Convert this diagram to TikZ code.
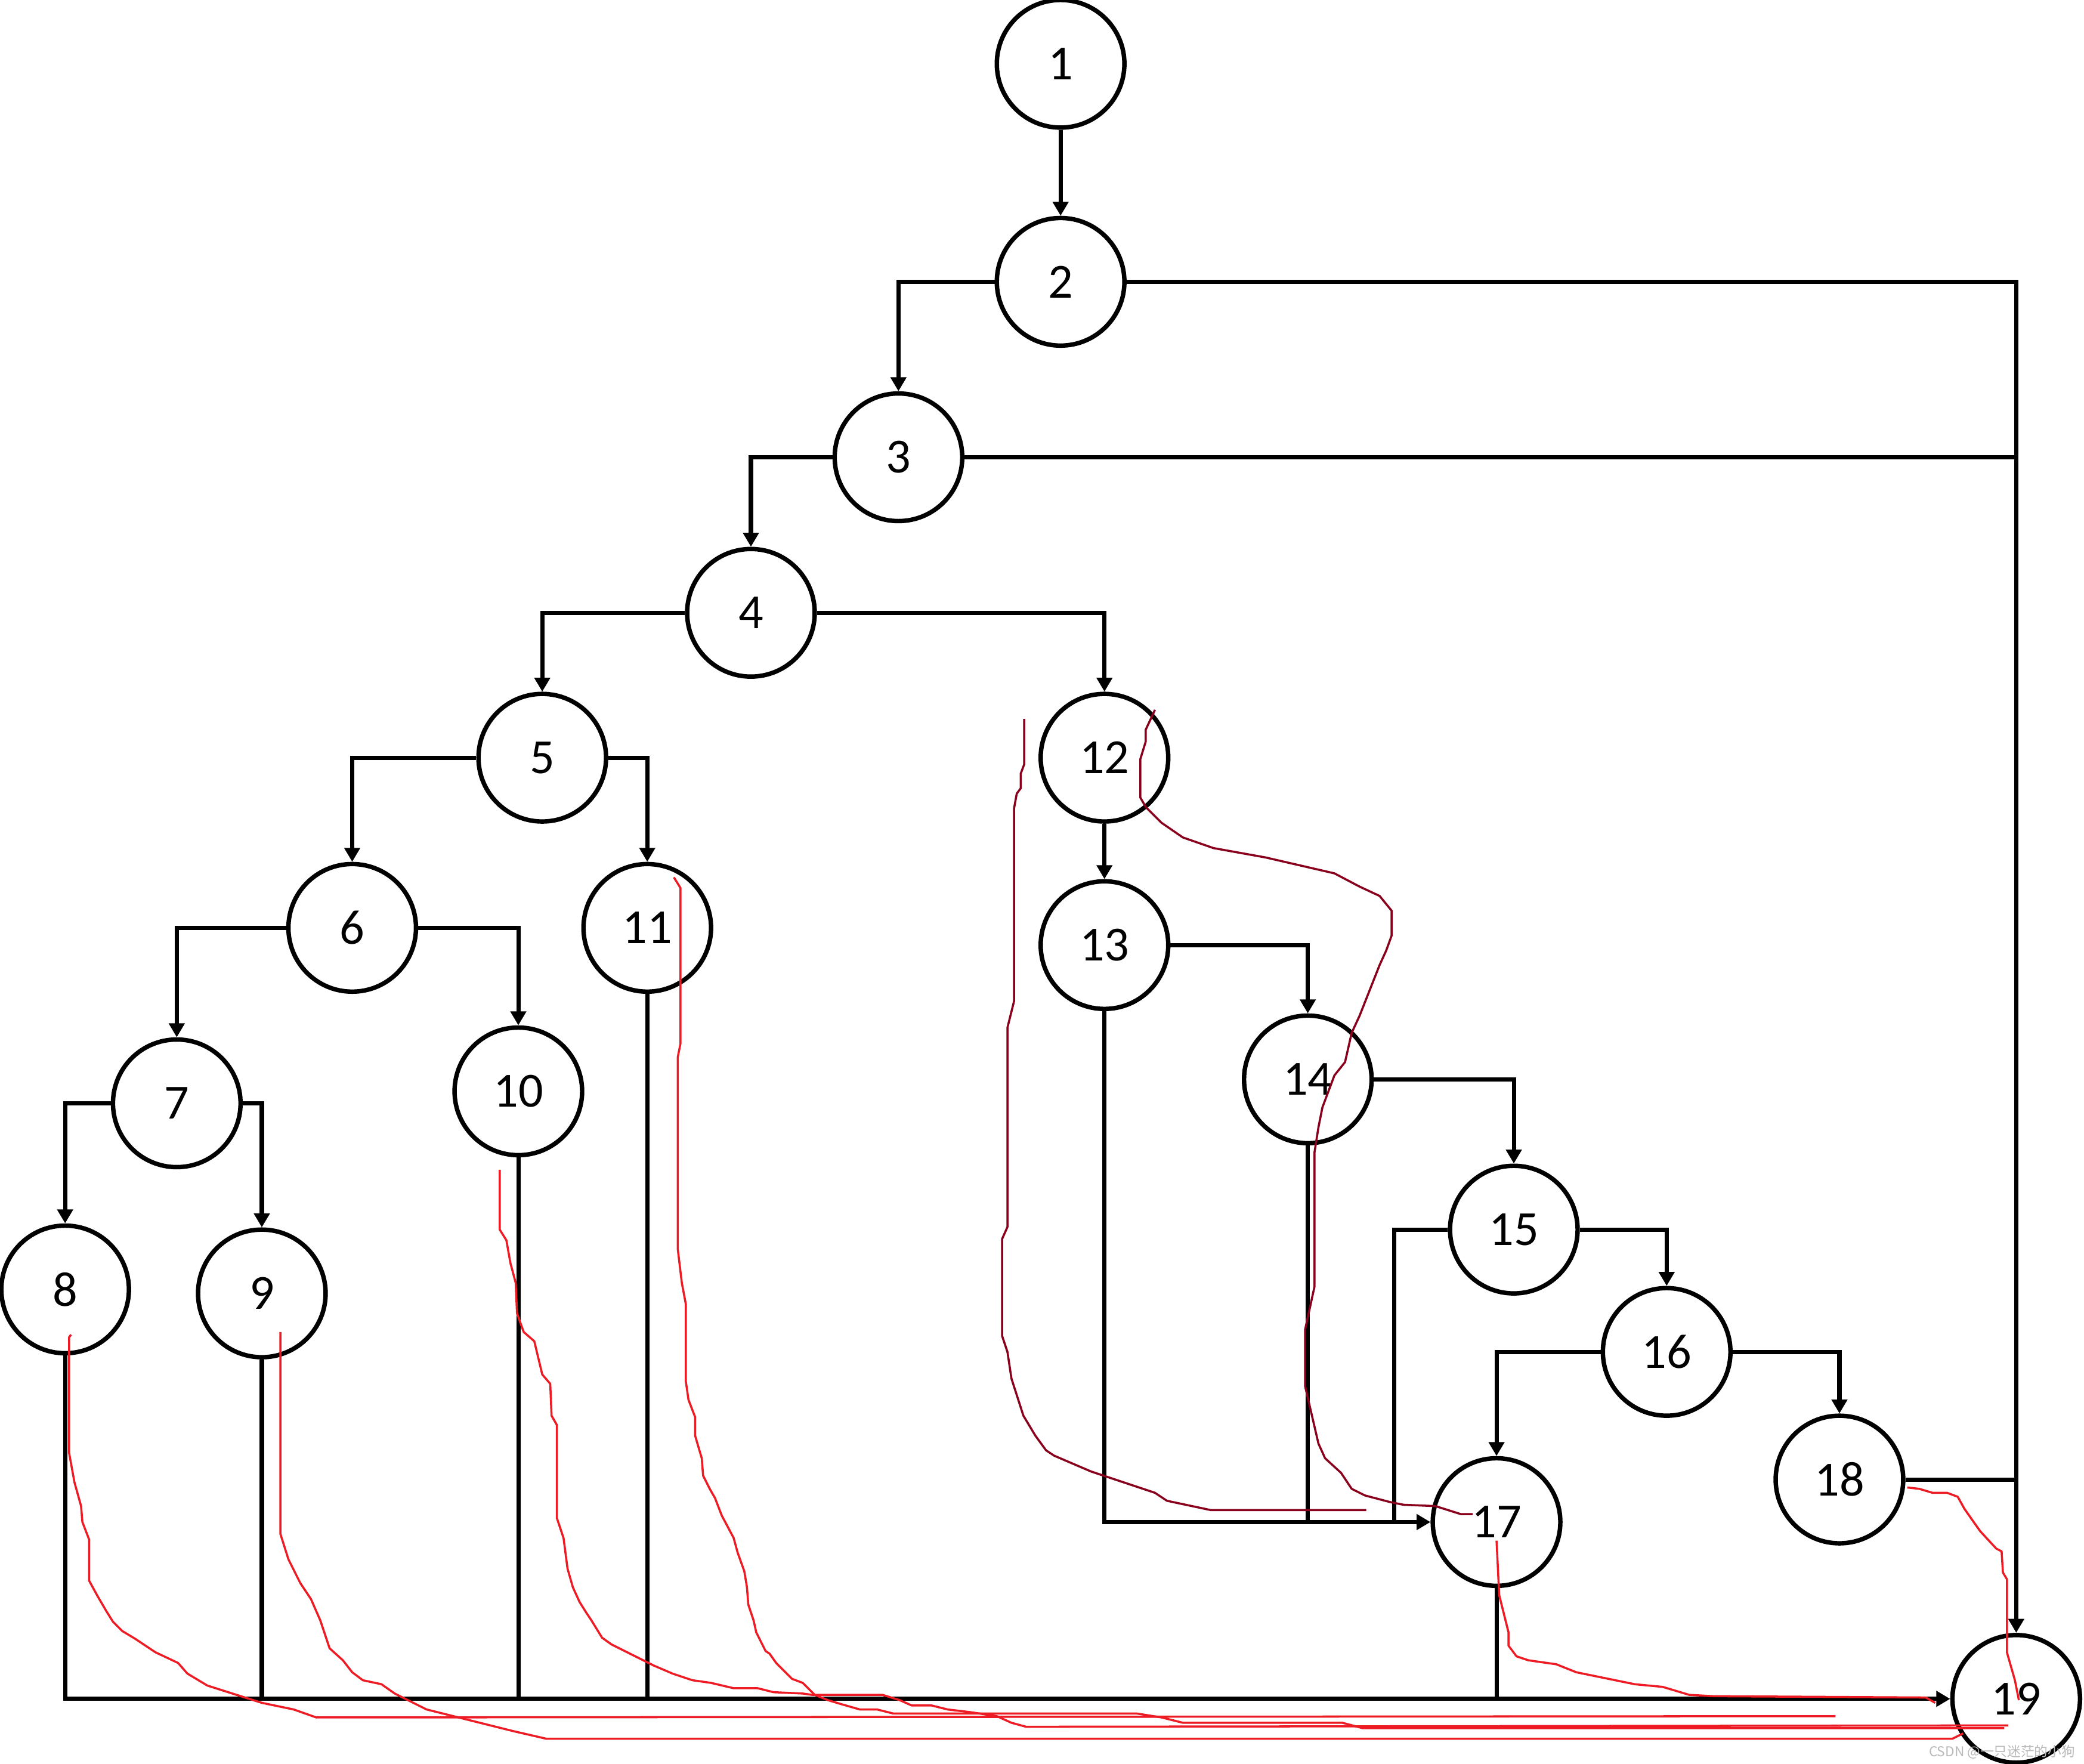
\documentclass[tikz,border=0pt]{standalone}
\usepackage{fontspec}
\setmainfont{Carlito}
\newfontfamily\cjk{Noto Sans CJK SC}
\usetikzlibrary{arrows.meta}
\definecolor{pen}{HTML}{ED1C24}
\definecolor{darkpen}{HTML}{88001B}
\begin{document}
\begin{tikzpicture}[x=0.1mm,y=-0.1mm,
  vertex/.style={circle,draw,line width=0.95pt,minimum size=9.6mm,inner sep=0pt,font=\fontsize{10.5}{12}\selectfont},
  edge/.style={line width=0.9pt},
  arr/.style={edge,-{Triangle[length=1.05mm,width=1.15mm]}},
  redline/.style={pen,line width=0.45pt,line join=round},
  darkline/.style={darkpen,line width=0.45pt,line join=round}]
\useasboundingbox (0,0) rectangle (1568,1327);
\foreach \n/\x/\y in {1/798/48,2/798/212,3/676/344,4/565/461,5/408/570,6/265/698,7/133/830,
  8/49/970,9/197/973,10/390/821,11/487/698,12/831/570,13/831/711,14/984/812,
  15/1139/925,16/1254/1017,17/1126/1145,18/1384/1113,19/1517/1278}
  {\node[vertex] (n\n) at (\x,\y) {\n};}
\coordinate (j15) at (1049,1145);
\draw[arr] (n1) -- (n2);
\draw[arr] (n2) -| (n3);
\draw[arr] (n2) -| (n19);
\draw[edge] (n3) -- (n3 -| n19);
\draw[arr] (n3) -| (n4);
\draw[arr] (n4) -| (n5);
\draw[arr] (n4) -| (n12);
\draw[arr] (n5) -| (n6);
\draw[arr] (n5) -| (n11);
\draw[arr] (n6) -| (n7);
\draw[arr] (n6) -| (n10);
\draw[arr] (n7) -| (n8);
\draw[arr] (n7) -| (n9);
\draw[arr] (n8) |- (n19);
\foreach \n in {9,10,11,17} {\draw[edge] (n\n) -- (n\n |- n19);}
\draw[arr] (n12) -- (n13);
\draw[arr] (n13) -| (n14);
\draw[arr] (n13) |- (n17);
\draw[edge] (n14) -- (n14 |- n17);
\draw[arr] (n14) -| (n15);
\draw[edge] (n15) -| (j15);
\draw[arr] (n15) -| (n16);
\draw[arr] (n16) -| (n17);
\draw[arr] (n16) -| (n18);
\draw[edge] (n18) -- (n18 -| n19);
% hand-drawn paths
\draw[redline] (53.5,1004) -- (52,1006) -- (52,1093) -- (56,1115) -- (61,1133) -- (62,1145) -- (67,1158) -- (67,1189) -- (73,1200) -- (80,1212) -- (85,1220) -- (92,1227) -- (102,1233) -- (117,1243) -- (134,1251) -- (141,1259) -- (156,1268) -- (178,1275) -- (197,1281) -- (221,1286) -- (238,1292) -- (1381,1291);
\draw[redline] (211,1002) -- (211,1154) -- (217,1173) -- (226,1191) -- (234,1203) -- (241,1219) -- (248,1240) -- (258,1249) -- (265,1258) -- (273,1264) -- (287,1267) -- (297,1274) -- (321,1286) -- (341,1291) -- (385,1302) -- (411,1308) -- (1469,1308) -- (1477,1304);
\draw[redline] (376,880) -- (376,925) -- (381,933) -- (384,950) -- (388,965) -- (389,988) -- (394,1002) -- (402,1009) -- (408,1034) -- (414,1041) -- (415,1065) -- (419,1072) -- (419,1142) -- (424,1157) -- (427,1180) -- (431,1194) -- (436,1205) -- (441,1213) -- (445,1219) -- (453,1232) -- (460,1237) -- (482,1248) -- (492,1253) -- (506,1259) -- (521,1264) -- (535,1266) -- (552,1270) -- (570,1270) -- (582,1273) -- (604,1274) -- (611,1275) -- (664,1275) -- (677,1279) -- (686,1283) -- (701,1283) -- (713,1286) -- (730,1288) -- (750,1291) -- (761,1296) -- (772,1299) -- (1511,1298);
\draw[redline] (507,660) -- (512,668) -- (512,785) -- (510,795) -- (510,940) -- (513,965) -- (516,981) -- (516,1039) -- (518,1053) -- (523,1066) -- (523,1080) -- (528,1097) -- (529,1110) -- (534,1120) -- (538,1127) -- (543,1140) -- (552,1157) -- (555,1168) -- (560,1182) -- (562,1194) -- (563,1207) -- (567,1219) -- (569,1228) -- (576,1242) -- (579,1244) -- (584,1251) -- (596,1263) -- (604,1266) -- (613,1275) -- (623,1279) -- (633,1282) -- (647,1286) -- (660,1286) -- (672,1289) -- (855,1289) -- (874,1292) -- (890,1296) -- (1010,1296) -- (1025,1300) -- (1508,1300);
\draw[redline] (1126,1159) -- (1128,1200) -- (1135,1228) -- (1135,1238) -- (1141,1246) -- (1150,1249) -- (1171,1252) -- (1186,1258) -- (1230,1267) -- (1251,1269) -- (1271,1275) -- (1289,1276) -- (1449,1277) -- (1456,1281);
\draw[redline] (1435,1119) -- (1444,1120) -- (1454,1123) -- (1465,1123) -- (1473,1126) -- (1478,1135) -- (1485,1145) -- (1490,1152) -- (1502,1165) -- (1506,1167) -- (1507,1183) -- (1510,1188) -- (1510,1243) -- (1516,1264) -- (1519,1279);
\draw[darkline] (770.6,540.8) -- (770.6,575) -- (768,582) -- (768,593) -- (765,597) -- (763,608) -- (763,753) -- (758,773) -- (758,923) -- (754,932) -- (754,1005) -- (758,1017) -- (761,1037) -- (770,1065) -- (779,1080) -- (787,1091) -- (793,1095) -- (821,1107) -- (869,1123) -- (878,1129) -- (911,1136) -- (1028,1136);
\draw[darkline] (869,534) -- (862,549) -- (862,558) -- (858,571) -- (858,600) -- (862,607) -- (869,614) -- (874,619) -- (890,630) -- (913,638) -- (952,645) -- (1004,657) -- (1023,667) -- (1038,674) -- (1047,685) -- (1047,704) -- (1043,715) -- (1038,726) -- (1023,764) -- (1017,777) -- (1012,799) -- (1004,809) -- (995,833) -- (992,848) -- (989,867) -- (989,968) -- (982,1000) -- (982,1043) -- (992,1086) -- (997,1097) -- (1009,1108) -- (1017,1120) -- (1027,1125) -- (1046,1130) -- (1056,1132) -- (1080,1133) -- (1099,1139) -- (1108,1139);
\node[font=\cjk\fontsize{2.9}{3}\selectfont,text=gray!55,anchor=east,inner sep=0pt] (wm) at (1562,1318) {CSDN @一只迷茫的小狗};
\end{tikzpicture}
\end{document}
